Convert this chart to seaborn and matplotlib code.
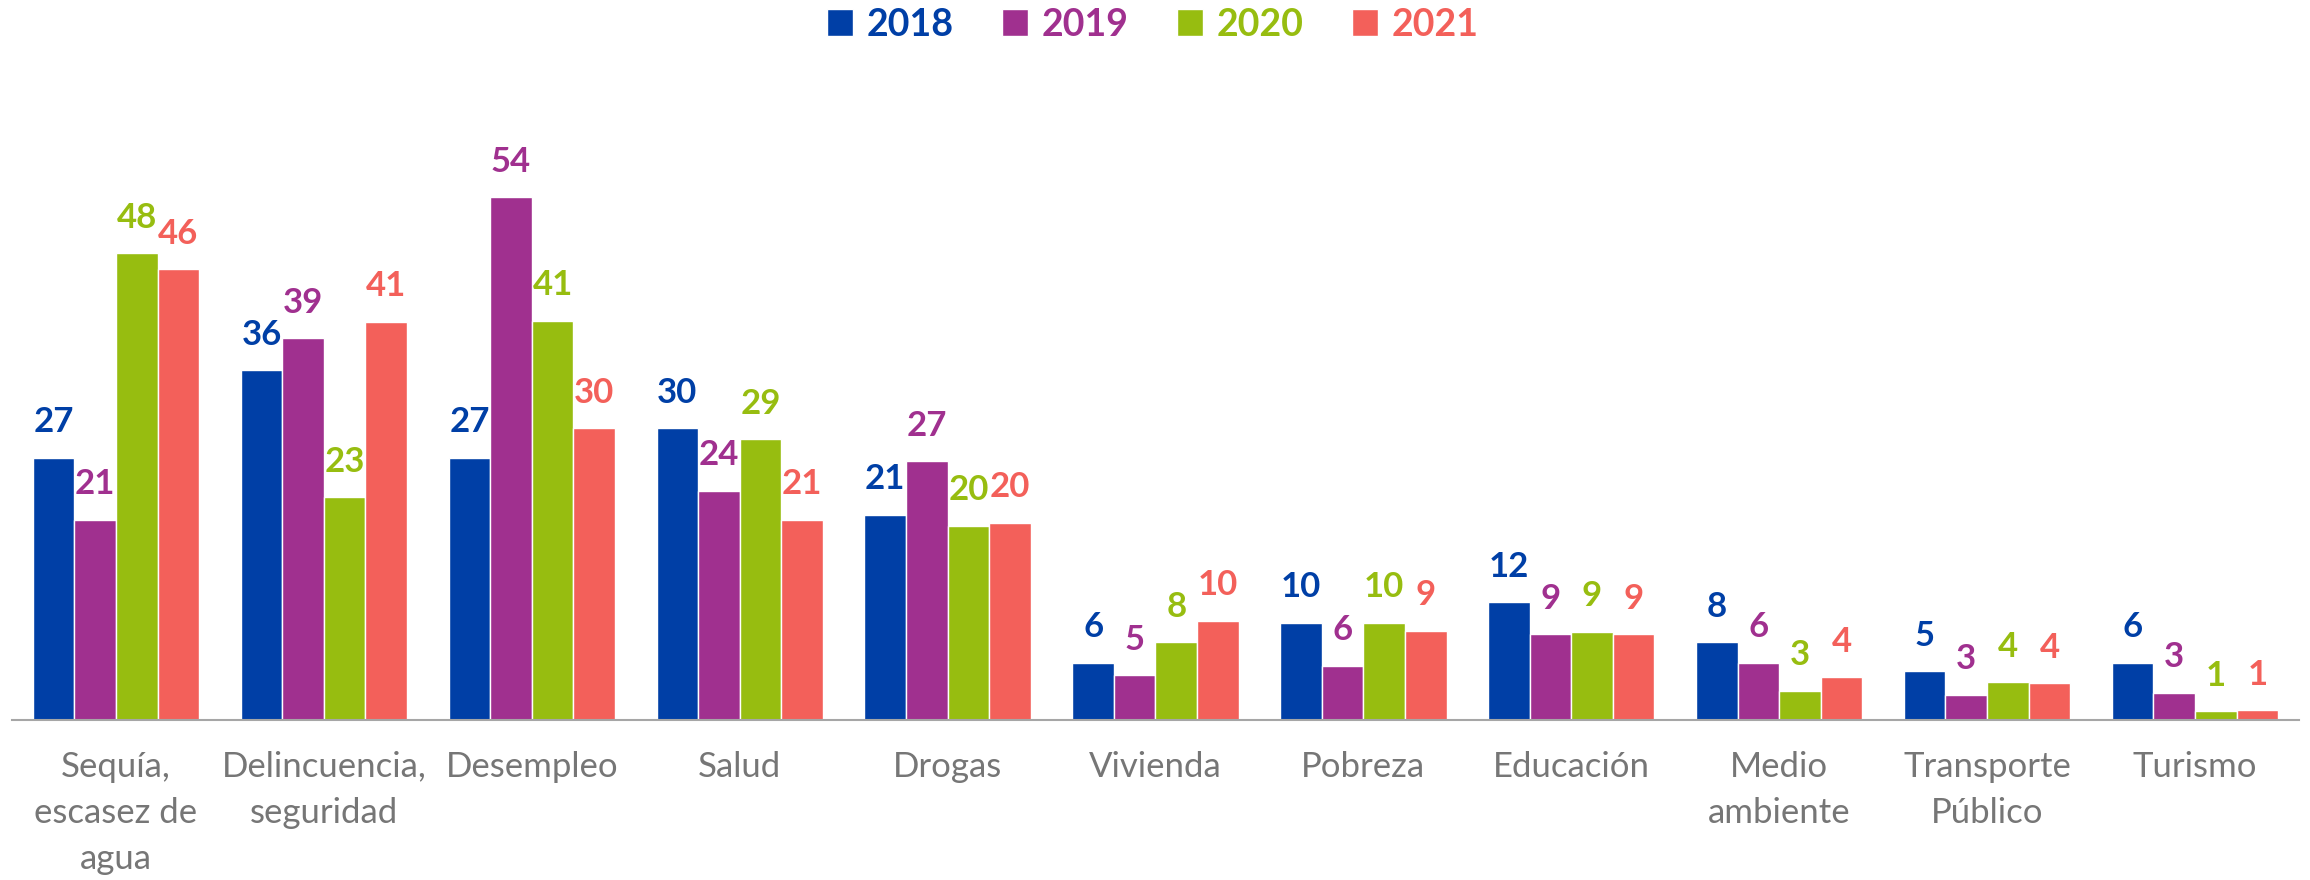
import pandas as pd
import numpy as np
import matplotlib
matplotlib.use("Agg")
import matplotlib.pyplot as plt
import seaborn as sns

# data
categorias = ["Sequía,\nescasez de\nagua", "Delincuencia,\nseguridad", "Desempleo", "Salud",
              "Drogas", "Vivienda", "Pobreza", "Educación", "Medio\nambiente",
              "Transporte\nPúblico", "Turismo"]
anios = ["2018", "2019", "2020", "2021"]
v2018 = [27.0, 36.0, 27.0, 30.0, 21.1, 5.9, 10.0, 12.1, 8.0, 5.0, 5.9]
v2019 = [20.6, 39.3, 53.8, 23.6, 26.6, 4.6, 5.6, 8.8, 5.9, 2.6, 2.8]
v2020 = [48.0, 22.9, 41.1, 28.9, 20.0, 8.0, 10.0, 9.1, 3.0, 3.9, 0.9]
v2021 = [46.4, 41.0, 30.0, 20.6, 20.3, 10.2, 9.2, 8.8, 4.4, 3.8, 1.0]
colores = ["#003FA6", "#A0308F", "#97BD10", "#F3605A"]

df = pd.DataFrame({
    "categoria": categorias * 4,
    "anio": np.repeat(anios, len(categorias)),
    "valor": v2018 + v2019 + v2020 + v2021,
})

sns.set_style("white")
plt.rcParams["font.family"] = ["Lato", "DejaVu Sans"]

fig = plt.figure(figsize=(23.1, 8.8), dpi=100)
ax = fig.add_axes([0.0052, 0.1818, 0.990, 0.6627])

sns.barplot(data=df, x="categoria", y="valor", hue="anio", palette=colores,
            saturation=1, width=0.8, edgecolor="white", linewidth=1, ax=ax,
            legend=True)

for cont, col in zip(ax.containers, colores):
    etiquetas = [f"{round(b.get_height()):d}" for b in cont]
    ax.bar_label(cont, labels=etiquetas, padding=14, color=col,
                 fontsize=25, fontweight="bold")

ax.set_ylim(0, 60)
ax.set_xlim(-0.5, len(categorias) - 0.5)
ax.set_xlabel("")
ax.set_ylabel("")
ax.set_yticks([])
for s in ["top", "right", "left"]:
    ax.spines[s].set_visible(False)
ax.spines["bottom"].set_color("#A6A6A6")
ax.spines["bottom"].set_linewidth(1.5)

ax.set_xticks(np.arange(-0.5, len(categorias), 1.0), minor=True)
ax.tick_params(axis="x", which="minor", length=9, width=1.5, color="#A6A6A6")
ax.tick_params(axis="x", which="major", length=0, pad=22, labelsize=25,
               labelcolor="#767676")
for t in ax.get_xticklabels():
    t.set_linespacing(1.55)

handles, labels = ax.get_legend_handles_labels()
ax.legend_.remove()
leg = fig.legend(handles, labels, loc="center", bbox_to_anchor=(0.499, 0.972),
                 ncol=4, frameon=False, handlelength=0.7, handleheight=0.7,
                 handletextpad=0.35, columnspacing=1.3,
                 prop={"size": 27, "weight": "bold"})
for txt, col in zip(leg.get_texts(), colores):
    txt.set_color(col)

fig.savefig("out.png", dpi=100)
